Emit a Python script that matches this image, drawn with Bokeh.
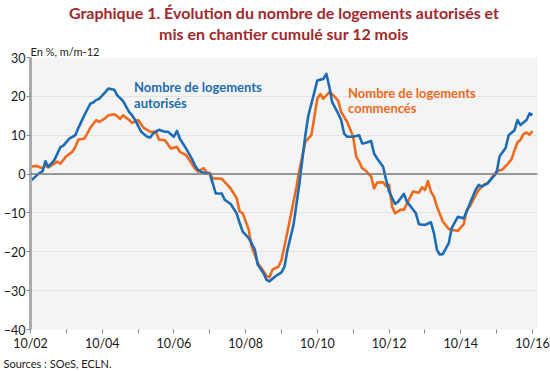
import pandas as pd
from bokeh.plotting import figure
from bokeh.models import Range1d, FixedTicker, Span, Label, Title
from bokeh.embed import file_html
from bokeh.resources import INLINE

# ---- Data: 12-month cumulative change, % (m/m-12) ----
aut_dates = ["2002-10", "2002-11", "2003-01", "2003-02", "2003-03", "2003-04", "2003-06", "2003-08",
             "2003-09", "2003-11", "2004-01", "2004-02", "2004-04", "2004-06", "2004-07", "2004-08",
             "2004-09", "2004-11", "2004-12", "2005-02", "2005-03", "2005-05", "2005-07", "2005-08",
             "2005-09", "2005-11", "2006-01", "2006-02", "2006-03", "2006-05", "2006-07", "2006-08",
             "2006-10", "2006-11", "2006-12", "2007-02", "2007-04", "2007-05", "2007-06", "2007-07",
             "2007-08", "2007-10", "2007-11", "2007-12", "2008-02", "2008-03", "2008-05", "2008-07",
             "2008-08", "2008-09", "2008-11", "2009-01", "2009-02", "2009-04", "2009-05", "2009-06",
             "2009-08", "2009-10", "2009-11", "2009-12", "2010-02", "2010-04", "2010-06", "2010-07",
             "2010-09", "2010-10", "2010-12", "2011-01", "2011-02", "2011-03", "2011-05", "2011-06",
             "2011-07", "2011-08", "2011-10", "2011-12", "2012-01", "2012-02", "2012-04", "2012-05",
             "2012-06", "2012-08", "2012-09", "2012-10", "2012-12", "2013-01", "2013-03", "2013-04",
             "2013-07", "2013-08", "2013-10", "2013-12", "2014-01", "2014-02", "2014-03", "2014-04",
             "2014-06", "2014-07", "2014-09", "2014-11", "2014-12", "2015-02", "2015-03", "2015-04",
             "2015-05", "2015-07", "2015-08", "2015-10", "2015-11", "2016-01", "2016-02", "2016-04",
             "2016-05", "2016-06", "2016-08", "2016-09", "2016-10"]
aut_values = [-1.8, -1.1, 0.3, 0.7, 3.3, 1.9, 3.6, 6.9,
              7.3, 9.1, 10.0, 11.9, 15.1, 18.1, 18.4, 19.1,
              19.4, 21.1, 22.0, 21.7, 20.3, 18.8, 16.0, 15.1,
              13.9, 10.9, 9.6, 9.4, 10.4, 11.4, 10.9, 10.9,
              9.6, 11.1, 9.1, 6.6, 4.0, 2.3, 1.2, 0.6,
              0.3, 0.1, -2.4, -5.0, -5.0, -6.6, -7.7, -10.1,
              -12.6, -14.8, -16.5, -19.3, -23.3, -25.5, -27.2, -27.6,
              -26.3, -25.3, -23.8, -19.5, -13.0, -2.5, 10.0, 15.0,
              21.1, 24.1, 24.5, 25.8, 22.4, 18.5, 15.6, 13.9,
              10.4, 9.6, 9.6, 10.0, 7.9, 8.0, 8.5, 5.3,
              4.0, 1.9, -1.5, -4.5, -7.7, -7.1, -5.1, -7.1,
              -10.1, -12.9, -13.1, -12.4, -15.2, -19.5, -20.7, -20.6,
              -17.8, -13.9, -11.0, -11.4, -9.6, -5.8, -4.1, -2.8,
              -3.2, -2.4, -1.5, 0.3, 4.6, 6.7, 10.0, 11.3,
              13.9, 12.6, 13.9, 15.6, 15.2]

com_dates = ["2002-10", "2002-12", "2003-02", "2003-03", "2003-04", "2003-07", "2003-08", "2003-10",
             "2003-12", "2004-01", "2004-02", "2004-04", "2004-05", "2004-06", "2004-08", "2004-09",
             "2004-11", "2004-12", "2005-02", "2005-03", "2005-04", "2005-05", "2005-07", "2005-08",
             "2005-10", "2005-12", "2006-02", "2006-04", "2006-05", "2006-07", "2006-09", "2006-11",
             "2006-12", "2007-02", "2007-04", "2007-05", "2007-06", "2007-08", "2007-09", "2007-10",
             "2007-11", "2008-02", "2008-03", "2008-05", "2008-07", "2008-08", "2008-09", "2008-11",
             "2008-12", "2009-02", "2009-04", "2009-05", "2009-06", "2009-07", "2009-09", "2009-10",
             "2009-11", "2010-01", "2010-03", "2010-04", "2010-06", "2010-08", "2010-09", "2010-10",
             "2010-11", "2010-12", "2011-02", "2011-03", "2011-05", "2011-06", "2011-08", "2011-10",
             "2011-11", "2011-12", "2012-01", "2012-02", "2012-03", "2012-04", "2012-05", "2012-06",
             "2012-08", "2012-09", "2012-10", "2012-11", "2012-12", "2013-02", "2013-03", "2013-04",
             "2013-06", "2013-08", "2013-09", "2013-10", "2013-11", "2013-12", "2014-01", "2014-02",
             "2014-04", "2014-06", "2014-07", "2014-09", "2014-11", "2014-12", "2015-01", "2015-03",
             "2015-04", "2015-06", "2015-07", "2015-09", "2015-10", "2015-12", "2016-02", "2016-03",
             "2016-04", "2016-05", "2016-06", "2016-07", "2016-08", "2016-09", "2016-10"]
com_values = [1.9, 2.1, 1.5, 2.1, 1.7, 3.2, 2.7, 4.6,
              5.7, 7.0, 8.9, 9.1, 10.4, 11.9, 13.9, 13.4,
              14.4, 15.1, 15.4, 14.9, 14.2, 15.1, 13.9, 13.2,
              13.9, 11.8, 10.9, 10.9, 8.9, 8.7, 6.6, 7.0,
              5.7, 4.9, 2.7, 1.5, 0.6, 1.5, 0.3, 0.3,
              -1.1, -1.2, -2.0, -3.7, -6.2, -9.6, -10.1, -14.3,
              -18.6, -22.9, -25.0, -26.3, -26.5, -24.6, -23.8, -22.1,
              -18.5, -10.9, -3.5, 1.0, 8.3, 10.0, 14.7, 19.4,
              20.6, 19.4, 21.1, 20.6, 18.9, 16.0, 13.4, 9.6,
              4.5, 3.2, 1.5, 1.0, 0.2, -0.6, -3.7, -2.2,
              -2.1, -3.1, -2.8, -8.4, -10.1, -9.1, -9.2, -7.6,
              -4.5, -4.8, -3.4, -4.1, -1.8, -4.5, -5.8, -8.4,
              -12.2, -14.1, -14.4, -14.6, -12.9, -9.2, -8.4, -5.5,
              -4.1, -2.6, -2.4, -0.3, 0.7, 1.2, 2.9, 3.8,
              6.1, 8.2, 8.8, 10.3, 10.7, 10.1, 11.1]

tick_dates = ["2002-10", "2003-10", "2004-10", "2005-10", "2006-10", "2007-10", "2008-10", "2009-10",
              "2010-10", "2011-10", "2012-10", "2013-10", "2014-10", "2015-10", "2016-10"]
tick_labels = ["10/02", "", "10/04", "", "10/06", "", "10/08", "",
               "10/10", "", "10/12", "", "10/14", "", "10/16"]
y_ticks = [-40, -30, -20, -10, 0, 10, 20, 30]

title_lines = ["Graphique 1. Évolution du nombre de logements autorisés et",
               "mis en chantier cumulé sur 12 mois"]
unit_text = "En %, m/m-12"
source_text = "Sources :  SOeS, ECLN."
aut_label = ["Nombre de logements", "autorisés"]
com_label = ["Nombre de logements", "commencés"]

BLUE = "#1d6cb5"
ORANGE = "#ef6a1d"
RED = "#a2282d"
INK = "#1a1a1a"
FONT = "Lato"


def to_dt(lst):
    return pd.to_datetime(lst, format="%Y-%m")


def ms(s):
    return float(pd.Timestamp(s).value // 10**6)


ad = to_dt(aut_dates)
cd = to_dt(com_dates)
td = to_dt(tick_dates)
tick_ms = [float(t.value // 10**6) for t in td]

x_start = td[0]
x_end = td[-1] + pd.Timedelta(days=51)

p = figure(width=550, height=371, x_axis_type="datetime",
           x_range=Range1d(x_start, x_end), y_range=Range1d(-40, 30),
           output_backend="svg", toolbar_location=None,
           min_border_left=0, min_border_right=13, min_border_top=57, min_border_bottom=42)
p.title.visible = False

p.background_fill_color = "#f4f4f4"
p.border_fill_color = "white"
p.outline_line_color = None

p.xgrid.visible = False
p.ygrid.ticker = FixedTicker(ticks=y_ticks)
p.ygrid.grid_line_color = "#e3e3e3"
p.ygrid.grid_line_width = 1

p.yaxis.ticker = FixedTicker(ticks=y_ticks)
p.yaxis.axis_line_color = "#ababab"
p.yaxis.axis_line_width = 3
p.yaxis.major_tick_line_color = "#8a8a8a"
p.yaxis.major_tick_out = 4
p.yaxis.major_tick_in = 0
p.yaxis.minor_tick_line_color = None
p.yaxis.major_label_standoff = 1
p.yaxis.major_label_text_font = FONT
p.yaxis.major_label_text_font_size = "12.5px"
p.yaxis.major_label_text_color = INK

p.xaxis.ticker = FixedTicker(ticks=tick_ms)
p.xaxis.major_label_overrides = dict(zip(tick_ms, tick_labels))
p.xaxis.axis_line_color = None
p.xaxis.major_tick_line_color = "#8a8a8a"
p.xaxis.major_tick_out = 4
p.xaxis.major_tick_in = 0
p.xaxis.minor_tick_line_color = None
p.xaxis.major_label_standoff = 2
p.xaxis.major_label_text_font = FONT
p.xaxis.major_label_text_font_size = "12.5px"
p.xaxis.major_label_text_color = INK

p.add_layout(Span(location=0, dimension="width", line_color="#7a7a7a", line_width=1.5))

p.line(cd, com_values, line_color=ORANGE, line_width=2.6, line_join="round")
p.line(ad, aut_values, line_color=BLUE, line_width=2.6, line_join="round")

# series labels (data coordinates, inside the frame)
for txt, yv in zip(aut_label, [22.3, 18.4]):
    p.add_layout(Label(x=ms("2005-08-21"), y=yv, text=txt, text_color=BLUE,
                       text_font=FONT, text_font_style="bold", text_font_size="13px",
                       text_baseline="middle", text_align="left"))
for txt, yv in zip(com_label, [20.8, 16.9]):
    p.add_layout(Label(x=ms("2011-08-10"), y=yv, text=txt, text_color=ORANGE,
                       text_font=FONT, text_font_style="bold", text_font_size="13px",
                       text_baseline="middle", text_align="left"))

# texts outside the frame: titles stacked above (closest to frame first)
p.add_layout(Title(text=unit_text, align="left", offset=0, standoff=0,
                   text_font=FONT, text_font_size="11px", text_font_style="normal",
                   text_color=INK), "above")
p.add_layout(Title(text=title_lines[1], align="center", offset=10, standoff=0,
                   text_font=FONT, text_font_size="16px", text_font_style="bold",
                   text_color=RED), "above")
p.add_layout(Title(text=title_lines[0], align="center", offset=-1, standoff=0,
                   text_font=FONT, text_font_size="16px", text_font_style="bold",
                   text_color=RED), "above")
p.add_layout(Title(text=source_text, align="left", offset=-27, standoff=2,
                   text_font=FONT, text_font_size="11px", text_font_style="normal",
                   text_color=INK), "below")

open("out.html", "w").write(file_html(p, INLINE))
